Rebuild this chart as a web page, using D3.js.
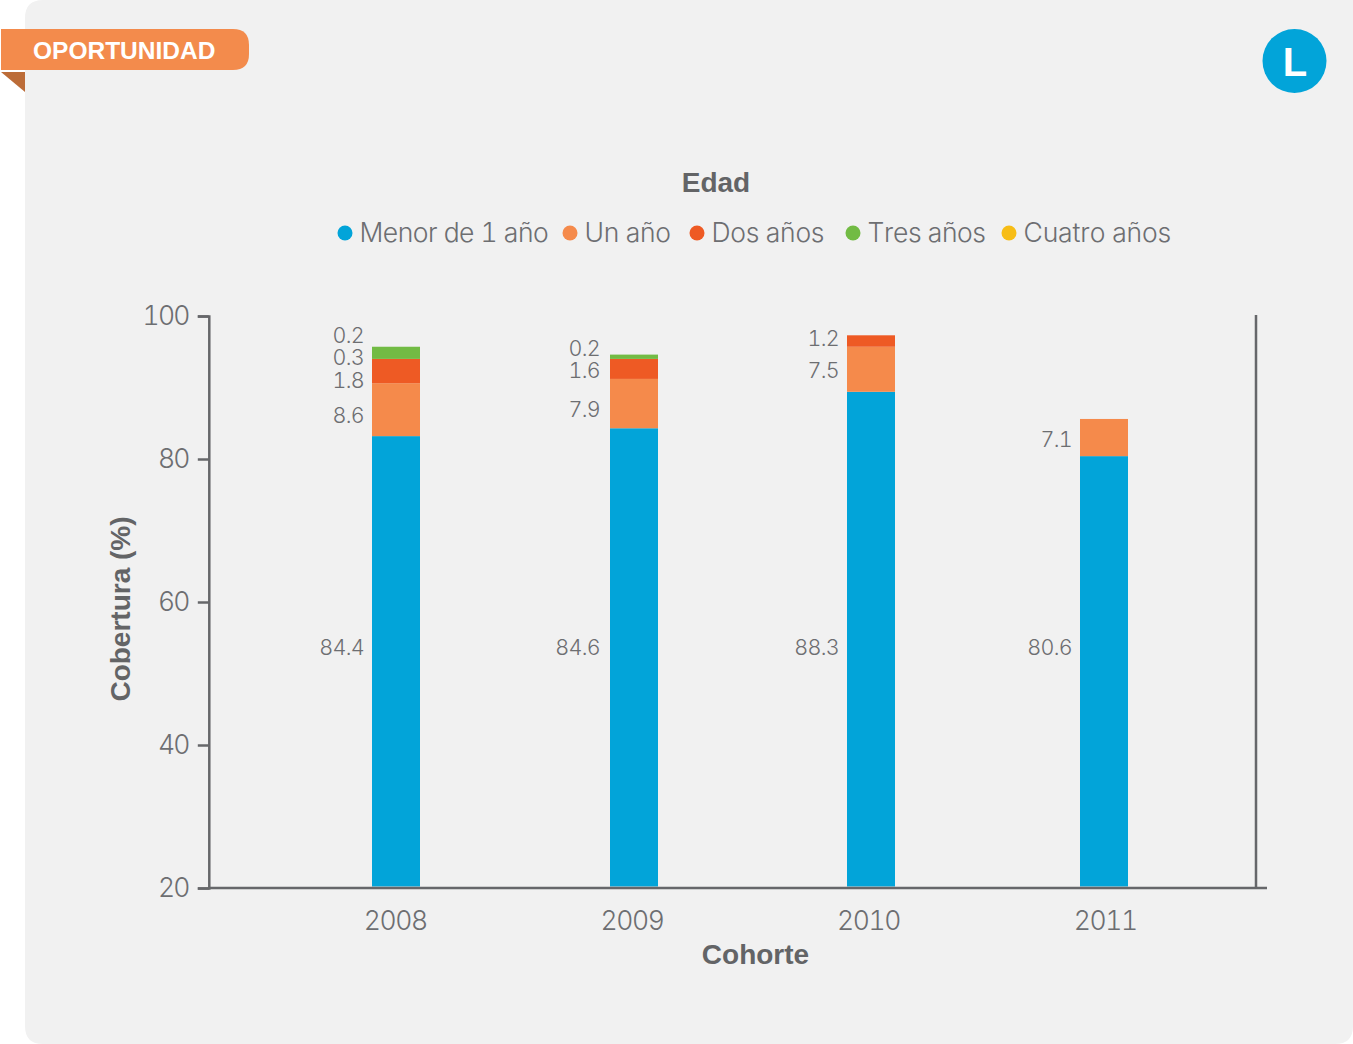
<!DOCTYPE html>
<html><head><meta charset="utf-8">
<script src="https://cdn.jsdelivr.net/npm/d3@7/dist/d3.min.js"></script>
<style>html,body{margin:0;padding:0;background:#fff}svg{display:block}
text{font-family:"Inter","Roboto","Liberation Sans",sans-serif;font-weight:300;fill:#6d6e71;font-feature-settings:"tnum" 1,"kern" 0}
.b{font-family:"Liberation Sans",sans-serif;font-weight:700;fill:#636466;font-feature-settings:normal}</style></head><body>
<svg id="c" width="1353" height="1044"></svg>
<script>
const years = [2008, 2009, 2010, 2011];
const seriesNames = ["Menor de 1 año", "Un año", "Dos años", "Tres años", "Cuatro años"];
const seriesColors = ["#02a4d9", "#f58a4b", "#ee5a24", "#72bb44", "#f7bd16"];
const menorDe1 = [83.2, 84.3, 89.4, 80.4];
const unAno = [7.4, 6.9, 6.3, 5.2];
const dosAnos = [3.4, 2.8, 1.6, 0];
const tresAnos = [1.7, 0.6, 0, 0];
const cuatroAnos = [0, 0, 0, 0];
const labelsMenor = ["84.4", "84.6", "88.3", "80.6"];
const labelsUn = ["8.6", "7.9", "7.5", "7.1"];
const labelsDos = ["1.8", "1.6", "1.2", null];
const labelsTres = ["0.3", "0.2", null, null];
const labelsCuatro = ["0.2", null, null, null];
const yTicks = [20, 40, 60, 80, 100];

const svg = d3.select("#c");
svg.append("path").attr("fill","#f1f1f1")
  .attr("d","M25,1044V18Q25,0 43,0H1353V1026Q1353,1044 1335,1044H43Q25,1044 25,1026Z");
svg.append("path").attr("fill","#f38b4c")
  .attr("d","M1,29H233Q249,29 249,45V54Q249,70 233,70H1Z");
svg.append("path").attr("fill","#bc6c38").attr("d","M1,72H25V92Z");
svg.append("text").attr("class","b").attr("x",33).attr("y",59).attr("font-size",24.5)
  .style("fill","#fff").text("OPORTUNIDAD");
svg.append("circle").attr("cx",1294.5).attr("cy",61).attr("r",32).attr("fill","#02a4d9");
svg.append("text").attr("class","b").attr("x",1295).attr("y",75.5).attr("font-size",40)
  .attr("text-anchor","middle").style("fill","#fff").text("L");

const y = d3.scaleLinear().domain([20,100]).range([888,316]);
const xTick = d3.scaleBand().domain(years).range([277,1223.5]);
const xBar = d3.scaleLinear().domain(years).range([396,634,871,1104]);
const barW = 48;

const stack = d3.stack().keys(d3.range(5)).value((i,k)=>[menorDe1,unAno,dosAnos,tresAnos,cuatroAnos][k][i]);
const layers = stack(d3.range(years.length));
svg.append("g").selectAll("g").data(layers).join("g")
  .attr("fill",(d,i)=>seriesColors[i])
  .selectAll("rect").data(d=>d.map((p,i)=>({p,i})).filter(o=>o.p[1]>o.p[0])).join("rect")
  .attr("x",o=>xBar(years[o.i])-barW/2).attr("width",barW)
  .attr("y",o=>y(o.p[1])).attr("height",o=>Math.min(y(o.p[0]),886.5)-y(o.p[1]));

const axisCol="#66676a", fs=26.5;
const yAxis = d3.axisLeft(y).tickValues(yTicks).tickSize(11).tickPadding(9).tickFormat(d3.format("d"));
const ga = svg.append("g").attr("transform","translate(208.8,0)").call(yAxis);
ga.select(".domain").attr("stroke",axisCol).attr("stroke-width",2.5);
ga.selectAll(".tick line").attr("stroke",axisCol).attr("stroke-width",2.5);
ga.selectAll("text").attr("font-size",fs).attr("letter-spacing",-1.7);
const gx = svg.append("g").attr("transform","translate(0,888)")
  .call(d3.axisBottom(xTick).tickSize(0).tickPadding(23));
gx.select(".domain").remove();
gx.selectAll("text").attr("font-size",fs).attr("letter-spacing",-1.4);
svg.append("line").attr("x1",208).attr("x2",1267).attr("y1",y(20)).attr("y2",y(20)).attr("stroke",axisCol).attr("stroke-width",2.5);
svg.append("line").attr("x1",1256).attr("x2",1256).attr("y1",y(100)-1).attr("y2",y(20)).attr("stroke",axisCol).attr("stroke-width",2.5);

const labelY = [[647,647,647,647],[415,409,370,439],[380,370,338,null],[357,348,null,null],[335,null,null,null]];
const labelSets=[labelsMenor,labelsUn,labelsDos,labelsTres,labelsCuatro];
labelSets.forEach((set,k)=>set.forEach((t,i)=>{ if(t==null) return;
  svg.append("text").attr("x",xBar(years[i])-barW/2-(i==1?10:8)).attr("y",labelY[k][i]).attr("dy","0.36em")
    .attr("text-anchor","end").attr("font-size",21.5).attr("letter-spacing",-0.7).text(t);
}));

svg.append("text").attr("class","b").attr("x",716).attr("y",192).attr("text-anchor","middle").attr("font-size",28).text("Edad");
svg.append("text").attr("class","b").attr("x",755.5).attr("y",964).attr("text-anchor","middle").attr("font-size",28).text("Cohorte");
svg.append("text").attr("class","b").attr("transform","translate(130,609) rotate(-90)").attr("text-anchor","middle").attr("font-size",28).text("Cobertura (%)");

const legX=[345,570,697,853,1009];
const legSpacing=[-0.5,-0.3,-0.3,-0.45,-0.15];
seriesNames.forEach((n,i)=>{
  svg.append("circle").attr("cx",legX[i]).attr("cy",233).attr("r",7.5).attr("fill",seriesColors[i]);
  svg.append("text").attr("x",legX[i]+14.5).attr("y",242).attr("font-size",fs).attr("letter-spacing",legSpacing[i]).text(n);
});
</script></body></html>
